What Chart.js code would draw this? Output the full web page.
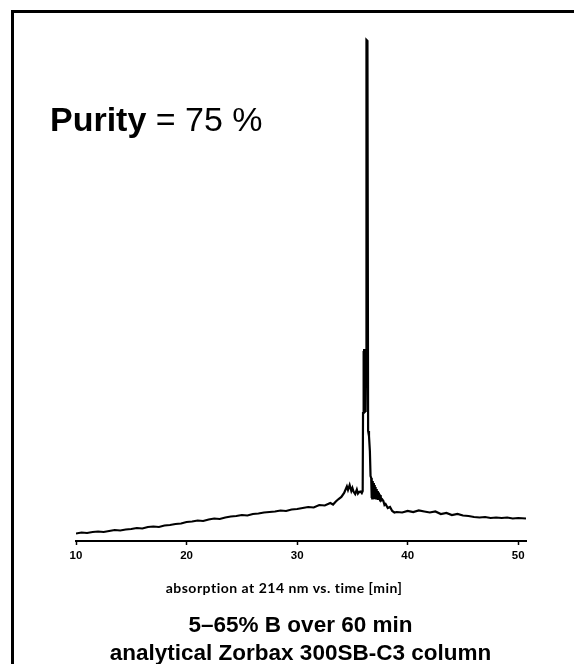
<!DOCTYPE html>
<html>
<head>
<meta charset="utf-8">
<script src="https://cdn.jsdelivr.net/npm/chart.js@4/dist/chart.umd.min.js"></script>
<style>
  html, body { margin: 0; padding: 0; background: #fff; }
  body { width: 574px; height: 664px; position: relative; overflow: hidden; font-family: "Liberation Sans", Arial, sans-serif; }
  .frame { position: absolute; left: 11px; top: 10px; width: 640px; height: 720px; border: 3px solid #000; box-sizing: border-box; }
  .plot { position: absolute; left: 0; top: 0; width: 574px; height: 600px; }
  .purity { position: absolute; left: 50px; top: 99px; font-size: 34px; color: #000; white-space: nowrap; line-height: 40px; }
  .purity b { font-weight: bold; }
  .axis-note { position: absolute; left: 0; width: 568px; top: 579px; text-align: center; font-family: Lato, "Open Sans", sans-serif; font-weight: bold; font-size: 14px; letter-spacing: 0.5px; color: #000; line-height: 17px; }
  .method { position: absolute; left: 0; width: 601px; text-align: center; font-weight: bold; font-size: 22.5px; color: #000; line-height: 26px; white-space: nowrap; }
</style>
</head>
<body>
<div class="frame"></div>
<div class="plot"><canvas id="chrom" width="574" height="600"></canvas></div>
<div class="purity"><b>Purity</b> = 75 %</div>
<div class="axis-note">absorption at 214 nm vs. time [min]</div>
<div class="method" style="top:612px">5–65% B over 60 min</div>
<div class="method" style="top:640px">analytical Zorbax 300SB-C3 column</div>
<script>
// retention time [min]
const times = [
  10.0, 10.5, 11.0, 11.5, 12.0, 12.5, 13.0, 13.5, 14.0, 14.5,
  15.0, 15.5, 16.0, 16.5, 17.0, 17.5, 18.0, 18.5, 19.0, 19.5,
  20.0, 20.5, 21.0, 21.5, 22.0, 22.5, 23.0, 23.5, 24.0, 24.5,
  25.0, 25.5, 26.0, 26.5, 27.0, 27.5, 28.0, 28.5, 29.0, 29.5,
  30.0, 30.5, 31.0, 31.5, 32.0, 32.5, 33.0, 33.25, 33.5, 33.75,
  34.0, 34.25, 34.5, 34.6, 34.75, 34.9, 35.0, 35.1, 35.25, 35.4,
  35.5, 35.6, 35.75, 35.85, 35.93, 35.96, 36.0, 36.03, 36.06, 36.09,
  36.12, 36.15, 36.18, 36.21, 36.24, 36.27, 36.36, 36.42, 36.5, 36.58,
  36.64, 36.7, 36.73, 36.76, 36.79, 36.82, 36.86, 36.9, 36.94, 36.98,
  37.02, 37.06, 37.1, 37.15, 37.2, 37.25, 37.3, 37.35, 37.4, 37.45,
  37.5, 37.55, 37.6, 37.7, 37.8, 37.9, 38.0, 38.2, 38.4, 38.6,
  38.8, 39.0, 39.5, 40.0, 40.5, 41.0, 41.5, 42.0, 42.5, 43.0,
  43.5, 44.0, 44.5, 45.0, 45.5, 46.0, 46.5, 47.0, 47.5, 48.0,
  48.5, 49.0, 49.5, 50.0, 50.7
];

// absorbance at 214 nm (relative units)
const absorbance = [
  1.5, 1.7, 1.6, 1.8, 1.9, 1.8, 2.0, 2.2, 2.1, 2.3,
  2.4, 2.6, 2.5, 2.8, 2.9, 2.8, 3.1, 3.2, 3.4, 3.5,
  3.8, 3.9, 4.1, 4.0, 4.3, 4.5, 4.4, 4.7, 4.9, 5.0,
  5.2, 5.1, 5.4, 5.5, 5.7, 5.8, 5.9, 6.1, 6.0, 6.3,
  6.4, 6.6, 6.8, 6.7, 7.2, 7.1, 7.6, 7.3, 7.9, 8.4,
  8.8, 9.6, 10.9, 10.2, 11.2, 10.0, 10.6, 9.9, 9.4, 10.3,
  9.5, 9.8, 9.9, 9.6, 10.0, 25.6, 38.0, 25.8, 38.4, 25.6,
  38.2, 26.0, 37.8, 26.4, 38.0, 100.2, 100.0, 22.0, 21.0, 18.0,
  13.0, 12.6, 8.6, 12.4, 8.5, 12.0, 8.5, 11.6, 8.4, 11.2,
  8.4, 10.8, 8.3, 10.4, 8.3, 10.0, 8.2, 9.7, 8.2, 9.4,
  8.1, 9.2, 8.1, 8.3, 8.0, 7.2, 7.4, 6.6, 6.8, 6.0,
  5.7, 5.8, 5.7, 6.0, 5.8, 6.1, 5.9, 5.7, 5.9, 5.4,
  5.6, 5.2, 5.4, 5.1, 5.0, 4.8, 4.7, 4.8, 4.6, 4.7,
  4.6, 4.7, 4.5, 4.6, 4.5
];

const timeTicks = [10, 20, 30, 40, 50];

const trace = times.map((t, i) => ({ x: t, y: absorbance[i] }));

new Chart(document.getElementById("chrom").getContext("2d"), {
  type: "line",
  data: {
    datasets: [{
      data: trace,
      borderColor: "#000",
      borderWidth: 2.2,
      pointRadius: 0,
      tension: 0,
      fill: false
    }]
  },
  options: {
    responsive: false,
    animation: false,
    events: [],
    layout: { padding: { left: 76, right: 48, top: 31, bottom: 0 } },
    plugins: { legend: { display: false }, tooltip: { enabled: false } },
    scales: {
      x: {
        type: "linear",
        min: 10,
        max: 50.7,
        afterFit: (s) => { s.height = 59; },
        afterBuildTicks: (s) => { s.ticks = timeTicks.map((v) => ({ value: v })); },
        grid: { drawOnChartArea: false, drawTicks: true, tickLength: 4, tickWidth: 1.5, color: "#000" },
        border: { display: true, color: "#000", width: 2 },
        ticks: {
          color: "#000",
          padding: 4,
          maxRotation: 0,
          font: { family: "Liberation Sans, Arial, sans-serif", size: 11.5, weight: "bold" }
        }
      },
      y: {
        display: false,
        min: 0,
        max: 102
      }
    }
  }
});
</script>
</body>
</html>
